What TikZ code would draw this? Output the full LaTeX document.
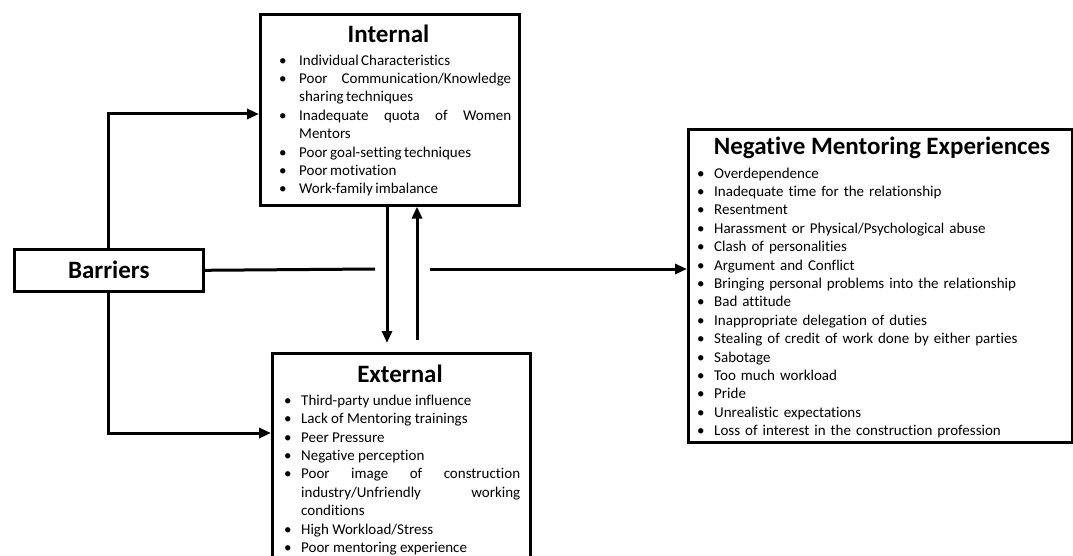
\documentclass[tikz,border=0pt]{standalone}
\usepackage{fontspec}
\setmainfont{Carlito}[Ligatures=NoCommon]
\usetikzlibrary{arrows.meta,calc}
\hyphenpenalty=10000
\exhyphenpenalty=10000
\newlength\hangw
\newcommand\bitem[1]{\par\noindent\hangindent=\hangw\hangafter=1\makebox[\hangw][l]{\textbullet}#1}
\tikzset{
  boxnode/.style={draw, line width=2.6pt, inner sep=0pt, anchor=north west},
  ttl/.style={font=\fontsize{25}{28}\selectfont\bfseries, inner sep=0pt, anchor=base},
  lst/.style={inner sep=0pt, anchor=north west, align=justify, font=\fontsize{15}{18.4}\selectfont},
  conn/.style={line width=3pt},
  arr/.style={conn, -{Triangle[length=12pt,width=10pt]}}
}
\begin{document}
\begin{tikzpicture}[x=1pt,y=-1pt]
\useasboundingbox (0,0) rectangle (1073,556);
% boxes
\node[boxnode, minimum width=259pt, minimum height=191pt] (int) at (259,13) {};
\node[boxnode, minimum width=189pt, minimum height=42pt, font=\fontsize{25}{28}\selectfont\bfseries] (bar) at (13,248) {Barriers};
\node[boxnode, minimum width=258pt, minimum height=230pt] (ext) at (271,352) {};
\node[boxnode, minimum width=384pt, minimum height=313pt] (neg) at (687,128) {};
% titles
\node[ttl] (intT) at (388.5,42.5) {Internal};
\node[ttl] (extT) at (400,382) {External};
\node[ttl] (negT) at (882,155) {Negative Mentoring Experiences};
% lists
\node[lst, text width=232pt] (intL) at (279,46.5) {\setlength\hangw{20pt}%
\bitem{Individual\,Characteristics}
\bitem{Poor Communication/Knowledge sharing\,techniques}
\bitem{Inadequate quota of Women Mentors}
\bitem{Poor\,goal-setting\,techniques}
\bitem{Poor\,motivation}
\bitem{Work-family\,imbalance}};
\node[lst, text width=236pt] (extL) at (284,386.6) {\setlength\hangw{17pt}%
\bitem{Third-party undue influence}
\bitem{Lack of Mentoring trainings}
\bitem{Peer Pressure}
\bitem{Negative perception}
\bitem{Poor image of construction industry/Unfriendly working conditions}
\bitem{High Workload/Stress}
\bitem{Poor mentoring experience}};
\node[lst, text width=365pt, align=left] (negL) at (697,159.6) {\setlength\hangw{17pt}%
\bitem{Overdependence}
\bitem{Inadequate time for the relationship}
\bitem{Resentment}
\bitem{Harassment or Physical/Psychological abuse}
\bitem{Clash of personalities}
\bitem{Argument and Conflict}
\bitem{Bringing personal problems into the relationship}
\bitem{Bad attitude}
\bitem{Inappropriate delegation of duties}
\bitem{Stealing of credit of work done by either parties}
\bitem{Sabotage}
\bitem{Too much workload}
\bitem{Pride}
\bitem{Unrealistic expectations}
\bitem{Loss of interest in the construction profession}};
% connector coordinates
\coordinate (ta) at (0,114);
\coordinate (tb) at (0,433);
\coordinate (hl) at (375,269);
\coordinate (hr) at (430,269);
\coordinate (dn) at (387,343);
\coordinate (up) at (417,340);
% connectors
\draw[arr] (bar.north) |- (int.west |- ta);
\draw[arr] (bar.south) |- (ext.west |- tb);
\draw[conn] (bar.east) -- (hl);
\draw[arr] (hr) -- (neg.west |- hr);
\draw[arr] (int.south -| dn) -- (dn);
\draw[arr] (up) -- (int.south -| up);
\end{tikzpicture}
\end{document}
